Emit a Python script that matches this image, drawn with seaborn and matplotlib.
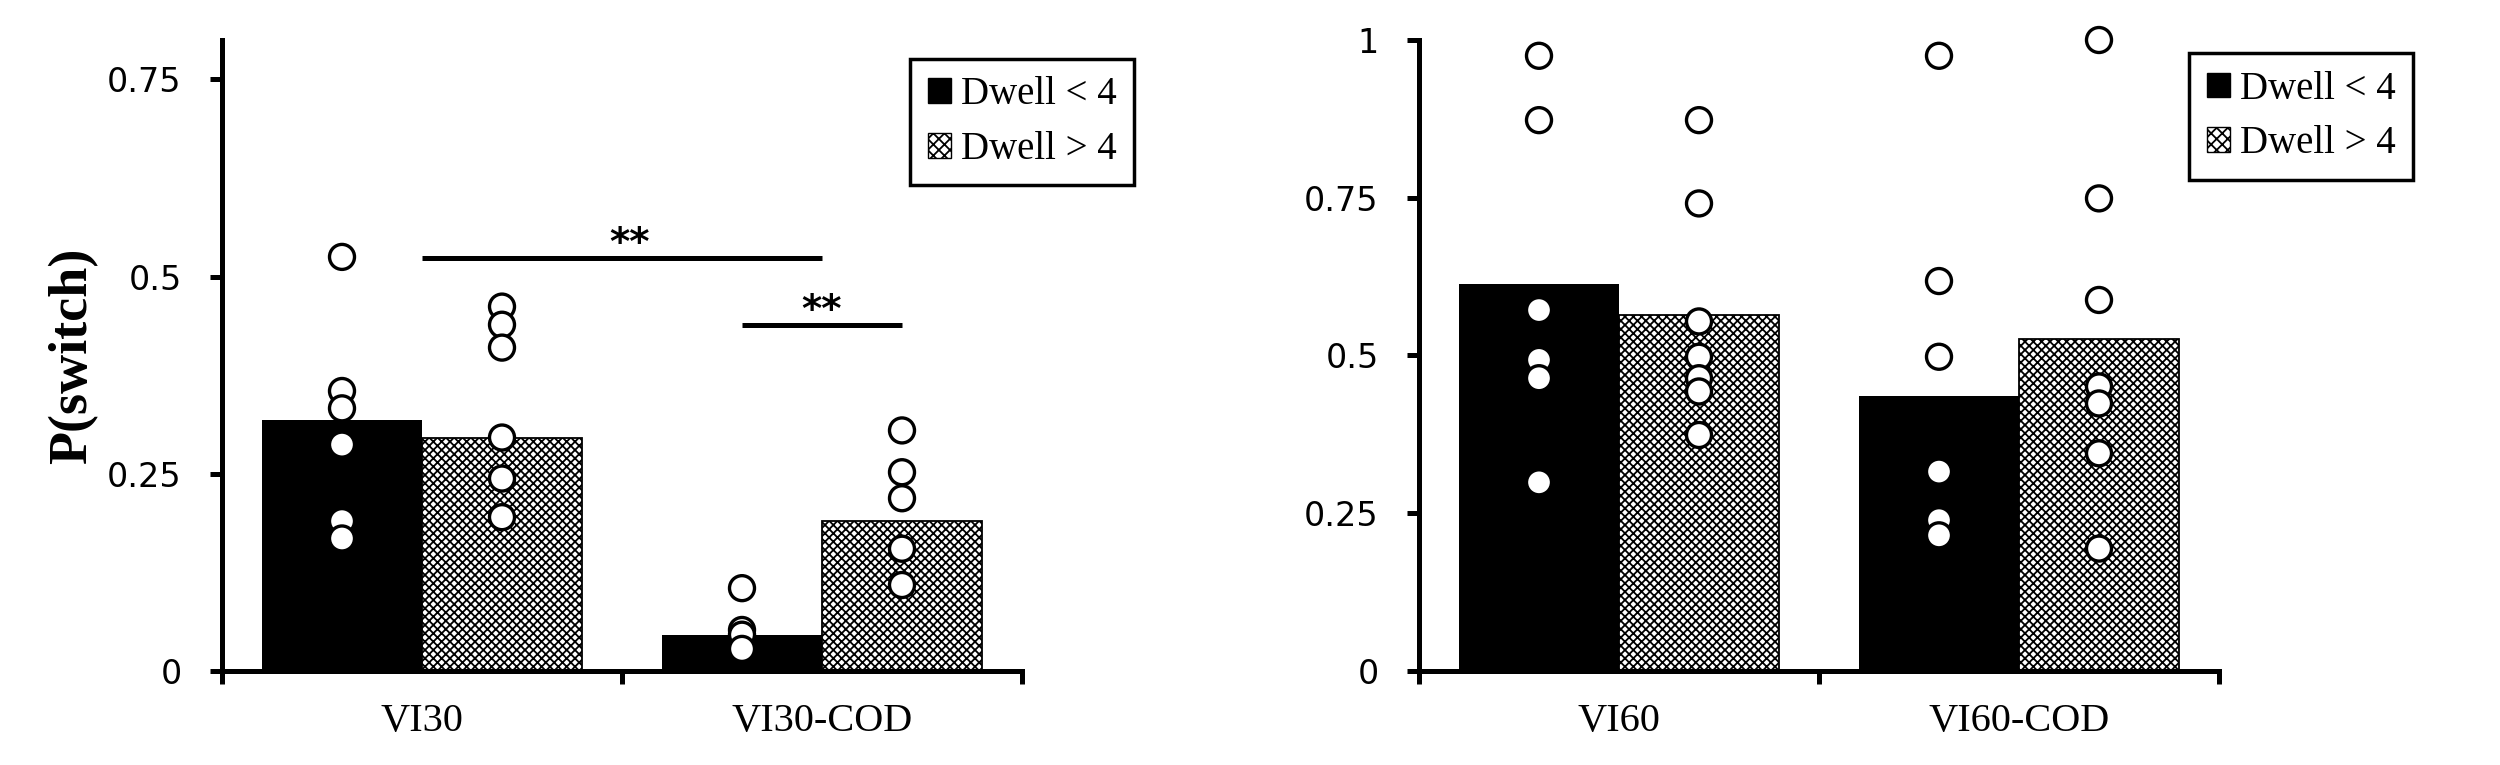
import matplotlib
matplotlib.use('Agg')
import matplotlib.pyplot as plt
from matplotlib.patches import Patch
import pandas as pd
import seaborn as sns

# data
dwell = ['Dwell < 4', 'Dwell > 4']

conds_30 = ['VI30', 'VI30-COD']
bar_30_short = [0.318, 0.046]
bar_30_long = [0.296, 0.190]
dots_30_short = [[0.525, 0.355, 0.333, 0.287, 0.190, 0.168],
                 [0.105, 0.052, 0.046, 0.028]]
dots_30_long = [[0.462, 0.439, 0.410, 0.296, 0.244, 0.195],
                [0.305, 0.252, 0.219, 0.155, 0.109]]

conds_60 = ['VI60', 'VI60-COD']
bar_60_short = [0.614, 0.436]
bar_60_long = [0.564, 0.526]
dots_60_short = [[0.975, 0.873, 0.572, 0.493, 0.464, 0.299],
                 [0.975, 0.618, 0.498, 0.316, 0.239, 0.215]]
dots_60_long = [[0.873, 0.741, 0.554, 0.498, 0.464, 0.443, 0.374],
                [1.0, 0.749, 0.588, 0.451, 0.424, 0.345, 0.194]]

yticks_30 = [0, 0.25, 0.5, 0.75]
yticks_60 = [0, 0.25, 0.5, 0.75, 1]
ytick_labels_30 = ['0', '0.25', '0.5', '0.75']
ytick_labels_60 = ['0', '0.25', '0.5', '0.75', '1']

sns.set_style('ticks')
plt.rcParams['font.family'] = ['DejaVu Sans']
plt.rcParams['hatch.linewidth'] = 1.3
for key in ['axes.edgecolor', 'xtick.color', 'ytick.color', 'text.color', 'axes.labelcolor']:
    plt.rcParams[key] = 'black'
PATTERN = 'xxxx'
SERIF = 'Liberation Serif'
LW = 3.6


def draw_panel(ax, conds, bar_s, bar_l, dots_s, dots_l, ymax, yticks, ylabels, legend_anchor):
    bar_df = pd.DataFrame({'cond': conds + conds,
                           'dwell': [dwell[0]] * 2 + [dwell[1]] * 2,
                           'p': bar_s + bar_l})
    sns.barplot(data=bar_df, x='cond', y='p', hue='dwell', order=conds, hue_order=dwell,
                palette=['black', 'white'], saturation=1, errorbar=None, width=0.8,
                linewidth=0, legend=False, ax=ax)
    for bar in ax.containers[1]:
        bar.set_facecolor('white')
        bar.set_edgecolor('black')
        bar.set_linewidth(1.3)
        bar.set_hatch(PATTERN)

    rows = []
    for c, vals in zip(conds, dots_s):
        rows += [(c, dwell[0], v) for v in vals]
    for c, vals in zip(conds, dots_l):
        rows += [(c, dwell[1], v) for v in vals]
    dot_df = pd.DataFrame(rows, columns=['cond', 'dwell', 'p'])
    sns.stripplot(data=dot_df, x='cond', y='p', hue='dwell', order=conds, hue_order=dwell,
                  palette=['white', 'white'], dodge=True, jitter=False, size=18,
                  edgecolor='black', linewidth=2.4, legend=False, ax=ax)
    for coll in ax.collections:
        coll.set_clip_on(False)
        coll.set_zorder(3)

    ax.set_xlim(-0.5, 1.5)
    ax.set_ylim(0, ymax)
    ax.set_xlabel('')
    ax.set_ylabel('')
    ax.set_yticks(yticks, ylabels, fontsize=24)
    ax.set_xticks([0, 1], conds, fontsize=29, family=SERIF)
    ax.set_xticks([-0.5, 0.5, 1.5], minor=True)
    ax.tick_params(axis='x', which='major', length=0, pad=23)
    ax.tick_params(axis='x', which='minor', length=9, width=LW, direction='out')
    ax.tick_params(axis='y', length=9, width=LW, direction='out', pad=20)
    for side in ['top', 'right']:
        ax.spines[side].set_visible(False)
    for side in ['left', 'bottom']:
        ax.spines[side].set_linewidth(LW)

    handles = [Patch(facecolor='black', edgecolor='black'),
               Patch(facecolor='white', edgecolor='black', hatch='xxx', linewidth=1)]
    leg = ax.legend(handles, dwell, loc='upper left', bbox_to_anchor=legend_anchor,
                    borderaxespad=0, fancybox=False, framealpha=1, edgecolor='black',
                    handlelength=0.6, handleheight=0.6, handletextpad=0.25,
                    labelspacing=0.45, borderpad=0.45, prop={'family': SERIF, 'size': 28})
    leg.get_frame().set_linewidth(2.5)
    leg.set_zorder(5)


fig = plt.figure(figsize=(25, 7.65), dpi=100)
ax1 = fig.add_axes([0.0888, 0.1229, 0.32, 0.8248])
ax2 = fig.add_axes([0.5676, 0.1229, 0.32, 0.8248])

draw_panel(ax1, conds_30, bar_30_short, bar_30_long, dots_30_short, dots_30_long,
           0.8, yticks_30, ytick_labels_30, (0.86, 0.97))
draw_panel(ax2, conds_60, bar_60_short, bar_60_long, dots_60_short, dots_60_long,
           1.0, yticks_60, ytick_labels_60, (0.9625, 0.979))

ax1.set_ylabel('P(switch)', family=SERIF, fontsize=39, fontweight='bold')
ax1.yaxis.set_label_coords(-0.155, 0.5)

# significance markers
for x0, x1, y, xt in [(0, 1, 0.523, 0.52), (0.8, 1.2, 0.439, 1.0)]:
    ax1.plot([x0, x1], [y, y], color='black', lw=LW, solid_capstyle='butt', clip_on=False)
    ax1.text(xt, y + 0.004, '**', ha='center', va='baseline', fontsize=28, fontweight='bold')

fig.savefig('out.png', dpi=100)
